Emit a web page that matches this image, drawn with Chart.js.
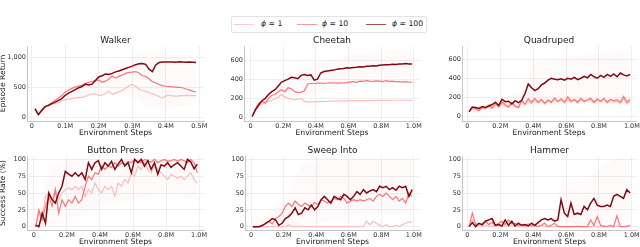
<!DOCTYPE html>
<html>
<head>
<meta charset="utf-8">
<script src="https://cdn.jsdelivr.net/npm/chart.js@4.4.1/dist/chart.umd.min.js"></script>
<style>
body { margin: 0; background: #fff; width: 640px; height: 247px; overflow: hidden; position: relative; font-family: 'DejaVu Sans', sans-serif; }
canvas { position: absolute; }
#legend { position: absolute; left: 231px; top: 16px; width: 194px; height: 15px; border: 1px solid #e2e2e2; border-radius: 2px; }
.sw { position: absolute; top: 7px; width: 20px; height: 0; border-top: 1.6px solid; }
.lt { position: absolute; top: 2px; font-size: 7.7px; line-height: 10px; color: #222; white-space: nowrap; }
</style>
</head>
<body>
<div id="legend">
  <div class="sw" style="left:2px;border-color:#fcc8c8"></div>
  <div class="lt" style="left:29px"><i>ϕ</i> = 1</div>
  <div class="sw" style="left:65px;border-color:#f79a9a"></div>
  <div class="lt" style="left:90px"><i>ϕ</i> = 10</div>
  <div class="sw" style="left:134px;border-color:#a84e4e"></div>
  <div class="lt" style="left:160px"><i>ϕ</i> = 100</div>
</div>
<canvas id="walker" width="212" height="104" style="left:-2px;top:34px"></canvas>
<canvas id="cheetah" width="204" height="104" style="left:222px;top:34px"></canvas>
<canvas id="quadruped" width="200" height="104" style="left:440px;top:34px"></canvas>
<canvas id="button" width="212" height="103" style="left:-2px;top:144px"></canvas>
<canvas id="sweep" width="203" height="103" style="left:223px;top:144px"></canvas>
<canvas id="hammer" width="200" height="103" style="left:440px;top:144px"></canvas>
<script>
// environment steps in millions
const walkerSteps = [0.01,0.02,0.03,0.04,0.05,0.06,0.07,0.08,0.09,0.10,
  0.11,0.12,0.13,0.14,0.15,0.16,0.17,0.18,0.19,0.20,
  0.21,0.22,0.23,0.24,0.25,0.26,0.27,0.28,0.29,0.30,
  0.31,0.32,0.33,0.34,0.35,0.36,0.37,0.38,0.39,0.40,
  0.41,0.42,0.43,0.44,0.45,0.46,0.47,0.48,0.49];
const steps = [0.01,0.03,0.05,0.07,0.09,0.11,0.13,0.15,0.17,0.19,
  0.21,0.23,0.25,0.27,0.29,0.31,0.33,0.35,0.37,0.39,
  0.41,0.43,0.45,0.47,0.49,0.51,0.53,0.55,0.57,0.59,
  0.61,0.63,0.65,0.67,0.69,0.71,0.73,0.75,0.77,0.79,
  0.81,0.83,0.85,0.87,0.89,0.91,0.93,0.95,0.97,0.99];

// tick labels
const walkerXTicks = [0, 0.1, 0.2, 0.3, 0.4, 0.5];
const xTicks1M = [0, 0.2, 0.4, 0.6, 0.8, 1.0];
const walkerYTicks = [0, 500, 1000];
const returnYTicks = [0, 200, 400, 600];
const successYTicks = [0, 25, 50, 75, 100];

// Walker (episode return)
const walker100 = [150,50,120,185,207, 235,260,290,320,374, 410,440,470,500,520, 560,545,560,620,680,
  700,730,720,740,765, 780,800,820,840,860, 885,900,905,890,810, 770,880,920,928,930,
  928,930,925,932,928, 925,930,925,920];
const walker10 = [150,60,130,185,215, 250,290,330,370,430, 460,490,510,530,545, 570,590,605,620,630,
  590,610,640,700,660, 690,710,740,755,760, 770,745,700,690,650, 600,580,555,535,525,
  520,515,510,505,500, 480,465,445,430];
const walker1 = [150,60,130,175,200, 220,240,260,280,300, 310,320,330,335,340, 355,380,395,400,370,
  380,400,440,390,410, 430,460,490,530,555, 520,480,455,440,420, 400,380,350,330,360,
  375,365,360,365,370, 372,370,370,368];
const walkerBandX = [0.01,0.1,0.2,0.25,0.3,0.35,0.4,0.45,0.49];
const walkerBandHi = [200,480,720,860,1000,1130,1060,980,940];
const walkerBandLo = [20,250,430,420,330,180,140,190,230];

// Cheetah (episode return)
const cheetah100 = [10,80,130,175,200, 240,270,290,330,370, 385,400,420,415,405, 440,450,440,445,390,
  400,465,480,485,490, 495,505,510,512,520, 518,522,525,530,528, 535,535,540,538,545,
  548,550,552,555,553, 558,560,565,560,558];
const cheetah10 = [10,90,150,170,150, 200,230,240,270,290, 270,310,300,270,260, 265,280,350,355,355,
  358,360,355,360,362, 360,358,362,360,365, 370,375,368,380,378, 385,380,378,383,380,
  375,385,378,380,372, 376,370,374,370,368];
const cheetah1 = [10,80,120,140,155, 165,180,195,215,240, 215,200,195,185,190, 200,170,160,162,163,
  165,165,167,168,170, 170,172,172,173,174, 175,175,175,176,176, 177,177,177,178,178,
  178,179,179,180,180, 180,180,180,180,180];
const cheetahBandX = [0.01,0.2,0.4,0.6,0.8,0.99];
const cheetahBandHi = [40,450,570,650,690,710];
const cheetahBandLo = [0,190,240,370,410,420];

// Quadruped (episode return)
const quad100 = [50,100,95,85,105, 95,110,125,150,115, 180,155,160,130,165, 145,170,240,340,300,
  270,290,330,350,380, 400,390,385,395,380, 400,390,410,385,400, 420,405,440,415,400,
  430,410,440,420,445, 415,455,435,425,440];
const quad10 = [50,95,80,60,95, 85,120,90,140,105, 150,125,100,150,110, 95,170,130,185,150,
  190,150,180,140,175, 150,195,160,185,150, 205,160,180,150,190, 160,175,190,150,185,
  160,190,150,180,165, 175,150,210,150,180];
const quad1 = [50,85,75,70,85, 90,100,80,120,95, 130,110,95,130,100, 90,150,120,160,135,
  170,140,165,130,160, 140,175,150,170,140, 180,150,170,140,175, 150,165,175,140,170,
  150,175,140,165,150, 160,130,190,130,160];
const quadBandX = [0.01,0.2,0.33,0.4,0.6,0.8,0.99];
const quadBandHi = [80,200,250,560,620,660,690];
const quadBandLo = [20,60,80,100,120,130,140];

// Button Press (success rate %)
const button100 = [2,0,20,5,50, 40,35,50,60,82, 78,75,80,75,80, 70,95,85,95,98,
  85,95,90,97,85, 93,100,90,95,80, 100,95,100,90,98, 85,95,78,92,90,
  95,88,92,95,90, 85,100,96,86,93];
const button10 = [0,25,10,30,45, 30,55,20,40,30, 40,35,45,35,40, 60,75,70,80,78,
  90,85,90,88,95, 90,95,92,97,95, 100,97,95,100,98, 96,100,95,98,100,
  97,98,100,97,100, 98,95,100,95,80];
const button1 = [0,20,10,45,50, 40,55,40,50,55, 58,55,60,55,60, 45,55,50,65,55,
  50,60,55,60,45, 65,60,70,65,80, 75,90,85,95,85, 80,90,85,80,75,
  70,78,75,72,75, 70,75,80,70,65];
const buttonBandX = [0.01,0.1,0.2,0.4,0.6,0.8,0.99];
const buttonBandHi = [10,90,100,100,100,100,100];
const buttonBandLo = [0,0,10,30,40,50,40];

// Sweep Into (success rate %)
const sweep100 = [0,0,0,2,5, 8,12,10,2,5, 12,15,20,28,18, 20,28,25,32,25,
  30,40,45,40,35, 45,42,40,48,45, 40,45,52,48,55, 50,53,55,52,60,
  58,60,55,58,54, 60,58,60,45,55];
const sweep10 = [0,0,0,2,5, 8,4,12,15,20, 30,35,30,38,33, 30,35,32,30,36,
  33,40,38,35,38, 42,40,45,42,35, 38,40,38,40,38, 40,42,38,45,48,
  45,50,45,40,45, 38,42,35,50,45];
const sweep1 = [0,0,0,0,0, 0,0,0,0,0, 0,3,0,0,0, 0,0,0,0,0,
  0,0,0,0,0, 0,0,0,0,0, 0,0,0,0,0, 8,3,8,5,2,
  0,3,0,0,2, 0,3,5,7,6];
const sweepBandX = [0.01,0.2,0.3,0.5,0.7,0.99];
const sweepBandHi = [5,40,90,100,100,100];
const sweepBandLo = [0,0,0,10,20,20];

// Hammer (success rate %)
const hammer100 = [0,6,0,5,3, 8,10,12,2,3, 1,10,2,8,1, 5,2,3,1,5,
  2,6,10,12,10, 12,8,10,40,20, 15,35,18,20,18, 30,25,35,42,32,
  30,30,32,30,45, 48,45,42,55,50];
const hammer10 = [0,20,3,5,2, 8,3,6,2,5, 8,3,10,4,5, 2,3,1,4,1,
  2,0,2,5,0, 2,5,0,0,0, 0,0,0,0,0, 0,0,10,2,15,
  2,0,0,2,0, 16,0,0,0,2];
const hammer1 = [0,10,0,3,0, 2,0,1,0,2, 0,1,0,2,0, 0,1,0,0,1,
  0,0,1,0,0, 0,0,1,0,0, 0,0,0,1,0, 0,0,0,1,0,
  0,1,0,0,0, 1,0,0,1,0];
const hammerBandX = [0.01,0.3,0.55,0.56,0.7,0.9,0.99];
const hammerBandHi = [20,15,15,60,70,100,100];
const hammerBandLo = [0,0,0,10,0,10,10];

const C100 = 'rgb(128,10,18)';
const C10 = 'rgb(248,118,118)';
const C1 = 'rgb(251,188,188)';
const BAND = 'rgba(246,120,120,0.04)';
const FONT = 'DejaVu Sans';

function makeChart(id, o) {
  new Chart(document.getElementById(id), {
    type: 'line',
    data: {
      labels: o.x,
      datasets: [
        { data: o.s100, borderColor: C100, borderWidth: 1.5 },
        { data: o.s10, borderColor: C10, borderWidth: 1.2 },
        { data: o.s1, borderColor: C1, borderWidth: 1.2 },
        { data: o.bx.map((x, i) => ({ x: x, y: o.hi[i] })), borderWidth: 0, borderColor: 'transparent', backgroundColor: BAND, fill: '+1' },
        { data: o.bx.map((x, i) => ({ x: x, y: o.lo[i] })), borderWidth: 0, borderColor: 'transparent', fill: false }
      ]
    },
    options: {
      responsive: false,
      animation: false,
      devicePixelRatio: 1,
      elements: { point: { radius: 0 }, line: { tension: 0 } },
      layout: { padding: { right: o.padR, left: 0, top: 0, bottom: 0 } },
      plugins: {
        legend: { display: false },
        tooltip: { enabled: false },
        filler: { drawTime: 'beforeDatasetsDraw' },
        title: {
          display: true, text: o.title, color: '#1a1a1a', fullSize: false,
          font: { family: FONT, size: 9, weight: 'normal', lineHeight: 1.1 },
          padding: { top: 2.1, bottom: 0 }
        }
      },
      scales: {
        x: {
          type: 'linear', min: o.xMin, max: o.xMax,
          border: { display: true, color: '#b8b8b8', width: 0.8 },
          grid: { color: '#ebebeb', lineWidth: 0.8, drawTicks: false },
          ticks: {
            autoSkip: false, maxRotation: 0, padding: 1,
            color: '#333', font: { family: FONT, size: 6.5 },
            callback: v => (v === 0 ? '0' : v.toFixed(1) + 'M')
          },
          afterBuildTicks: s => { s.ticks = o.xTicks.map(v => ({ value: v })); },
          title: { display: true, text: 'Environment Steps', color: '#1a1a1a', font: { family: FONT, size: 7.7 }, padding: 0 },
          afterFit: s => { s.height = 17; s.paddingLeft = 0; s.paddingRight = 0; }
        },
        y: {
          min: o.yMin, max: o.yMax,
          border: { display: true, color: '#b8b8b8', width: 0.8 },
          grid: { color: '#ebebeb', lineWidth: 0.8, drawTicks: false },
          ticks: { padding: 1, color: '#333', font: { family: FONT, size: 6.5 } },
          afterBuildTicks: s => { s.ticks = o.yTicks.map(v => ({ value: v })); },
          title: { display: !!o.yTitle, text: o.yTitle || '', color: '#1a1a1a', font: { family: FONT, size: 7.6 }, padding: 0 },
          afterFit: s => { s.width = o.yW; s.paddingTop = 0; s.paddingBottom = 0; }
        }
      }
    }
  });
}

makeChart('walker', { x: walkerSteps, s100: walker100, s10: walker10, s1: walker1,
  bx: walkerBandX, hi: walkerBandHi, lo: walkerBandLo, title: 'Walker', yTitle: 'Episode Return',
  xTicks: walkerXTicks, yTicks: walkerYTicks,
  xMin: -0.014, xMax: 0.514, yMin: -54, yMax: 1196, yW: 29, padR: 6 });
makeChart('cheetah', { x: steps, s100: cheetah100, s10: cheetah10, s1: cheetah1,
  bx: cheetahBandX, hi: cheetahBandHi, lo: cheetahBandLo, title: 'Cheetah',
  xTicks: xTicks1M, yTicks: returnYTicks,
  xMin: -0.04, xMax: 1.038, yMin: -37, yMax: 747, yW: 22, padR: 6 });
makeChart('quadruped', { x: steps, s100: quad100, s10: quad10, s1: quad1,
  bx: quadBandX, hi: quadBandHi, lo: quadBandLo, title: 'Quadruped',
  xTicks: xTicks1M, yTicks: returnYTicks,
  xMin: -0.033, xMax: 1.025, yMin: -47, yMax: 737, yW: 22, padR: 4 });
makeChart('button', { x: steps, s100: button100, s10: button10, s1: button1,
  bx: buttonBandX, hi: buttonBandHi, lo: buttonBandLo, title: 'Button Press', yTitle: 'Success Rate (%)',
  xTicks: xTicks1M, yTicks: successYTicks,
  xMin: -0.042, xMax: 1.03, yMin: -5, yMax: 105, yW: 29, padR: 6 });
makeChart('sweep', { x: steps, s100: sweep100, s10: sweep10, s1: sweep1,
  bx: sweepBandX, hi: sweepBandHi, lo: sweepBandLo, title: 'Sweep Into',
  xTicks: xTicks1M, yTicks: successYTicks,
  xMin: -0.038, xMax: 1.038, yMin: -5, yMax: 105, yW: 22, padR: 6 });
makeChart('hammer', { x: steps, s100: hammer100, s10: hammer10, s1: hammer1,
  bx: hammerBandX, hi: hammerBandHi, lo: hammerBandLo, title: 'Hammer',
  xTicks: xTicks1M, yTicks: successYTicks,
  xMin: -0.033, xMax: 1.032, yMin: -5, yMax: 105, yW: 22, padR: 3 });
</script>
</body>
</html>
